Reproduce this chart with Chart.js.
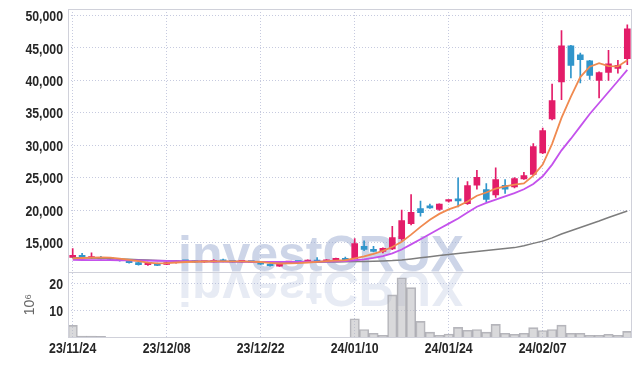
<!DOCTYPE html>
<html>
<head>
<meta charset="utf-8">
<script src="https://cdn.jsdelivr.net/npm/chart.js@4.4.1/dist/chart.umd.min.js"></script>
<style>
  html, body { margin: 0; padding: 0; background: #fff; }
  canvas { display: block; }
</style>
</head>
<body>
<canvas id="chart" width="642" height="366"></canvas>
<script>
const dates = [
  '23/11/24', '23/11/27', '23/11/28', '23/11/29', '23/11/30', '23/12/01', '23/12/04', '23/12/05', '23/12/06', '23/12/07',
  '23/12/08', '23/12/11', '23/12/12', '23/12/13', '23/12/14', '23/12/15', '23/12/18', '23/12/19', '23/12/20', '23/12/21',
  '23/12/22', '23/12/26', '23/12/27', '23/12/28', '24/01/02', '24/01/03', '24/01/04', '24/01/05', '24/01/08', '24/01/09',
  '24/01/10', '24/01/11', '24/01/12', '24/01/15', '24/01/16', '24/01/17', '24/01/18', '24/01/19', '24/01/22', '24/01/23',
  '24/01/24', '24/01/25', '24/01/26', '24/01/29', '24/01/30', '24/01/31', '24/02/01', '24/02/02', '24/02/05', '24/02/06',
  '24/02/07', '24/02/08', '24/02/13', '24/02/14', '24/02/15', '24/02/16', '24/02/19', '24/02/20', '24/02/21', '24/02/22'
]

const opens = [
  12700, 13000, 12600, 12600, 12500, 12330, 12110, 11900, 11560, 11750,
  11600, 11870, 12150, 12150, 11980, 12000, 12220, 12150, 12000, 12050,
  11960, 11650, 11350, 11900, 11980, 11960, 12150, 12100, 12220, 12480,
  12480, 14400, 13920, 13610, 14000, 15560, 17880, 20230, 20650, 20080,
  21380, 21720, 20990, 23820, 23160, 22340, 23820, 23570, 24810, 25470,
  28810, 34050, 39750, 45330, 43950, 43020, 39990, 41220, 41840, 43330
]
const highs = [
  14050, 13300, 13400, 12850, 12600, 12400, 12200, 11950, 11950, 11800,
  11950, 12200, 12250, 12200, 12100, 12350, 12450, 12200, 12100, 12100,
  12000, 11700, 11900, 12050, 12050, 12300, 12650, 12350, 12600, 12750,
  15610, 15250, 14380, 14150, 17500, 19970, 22390, 21360, 20900, 20950,
  21550, 24960, 24390, 26130, 24080, 26500, 24700, 25000, 25800, 30240,
  32650, 39430, 47690, 45400, 44200, 43100, 41300, 44610, 43070, 48570
]
const lows = [
  12650, 12650, 12550, 12400, 12350, 12100, 11800, 11500, 11450, 11400,
  11550, 11800, 12000, 11900, 11900, 11950, 12000, 11950, 11950, 11900,
  11600, 11350, 11300, 11850, 11900, 11900, 12000, 12050, 12150, 12250,
  12400, 13720, 13550, 13400, 13900, 15300, 17700, 19050, 20250, 19950,
  21200, 20490, 20850, 23200, 21300, 21950, 22550, 23400, 24700, 25300,
  28700, 33900, 37020, 40360, 39590, 40150, 37280, 40000, 41100, 42400
]
const closes = [
  13000, 12700, 12780, 12450, 12420, 12180, 11870, 11560, 11870, 11450,
  11900, 12150, 12100, 11950, 12020, 12250, 12070, 12000, 12050, 11960,
  11650, 11400, 11810, 11980, 11960, 12270, 12050, 12300, 12530, 12330,
  14840, 13920, 13610, 14080, 15750, 18380, 19660, 19570, 20340, 20900,
  21420, 21420, 23770, 25050, 21620, 24700, 23200, 24850, 25310, 29780,
  32240, 36860, 45330, 42300, 43180, 40760, 41180, 42560, 42300, 47950
]

// volume in millions of shares
const volumes = [
  4.5, 0.5, 0.5, 0.4, 0.05, 0.05, 0.05, 0.05, 0.05, 0.05,
  0.05, 0.05, 0.05, 0.05, 0.05, 0.05, 0.05, 0.05, 0.05, 0.05,
  0.05, 0.05, 0.05, 0.05, 0.05, 0.05, 0.05, 0.05, 0.05, 0.05,
  7.0, 3.0, 1.6, 0.85, 15.9, 22.3, 18.6, 6.0, 2.0, 0.85,
  1.3, 3.8, 2.7, 3.0, 2.0, 4.9, 1.6, 1.2, 1.6, 3.7,
  2.6, 3.0, 4.6, 1.6, 1.6, 0.85, 0.85, 1.2, 0.85, 2.3
]

const ma5 = [
  12550, 12600, 12650, 12700, 12650, 12500, 12300, 12100, 11900, 11780,
  11800, 11900, 11980, 12020, 12060, 12080, 12090, 12080, 12070, 12050,
  11980, 11850, 11750, 11760, 11800, 11900, 12000, 12100, 12180, 12250,
  12550, 12850, 13250, 13700, 14300, 15100, 16200, 17400, 18500, 19400,
  20100, 20600, 21300, 22200, 22700, 23300, 23650, 23900, 24100, 25300,
  27000, 30200, 34200, 37500, 40500, 42100, 42650, 42200, 42150, 43100
]
const ma20 = [
  12300, 12290, 12280, 12270, 12260, 12250, 12230, 12210, 12190, 12170,
  12150, 12130, 12110, 12090, 12070, 12060, 12050, 12040, 12030, 12020,
  12010, 12000, 12000, 12000, 12010, 12020, 12040, 12060, 12090, 12130,
  12250, 12400, 12600, 12900, 13300, 13900, 14700, 15500, 16300, 17100,
  17900, 18700, 19600, 20500, 21100, 21600, 22100, 22600, 23200, 24000,
  25200, 27000, 29200, 31000, 32900, 34800, 36500, 38200, 39900, 41600
]
const ma60 = [
  12650, 12620, 12580, 12540, 12500, 12450, 12400, 12340, 12280, 12220,
  12160, 12120, 12100, 12080, 12060, 12050, 12040, 12030, 12020, 12010,
  12000, 11990, 11980, 11970, 11960, 11960, 11960, 11970, 11990, 12010,
  12040, 12070, 12100, 12140, 12200, 12300, 12450, 12620, 12800, 12980,
  13150, 13300, 13450, 13600, 13750, 13900, 14050, 14200, 14500, 14850,
  15200, 15700, 16300, 16800, 17300, 17800, 18300, 18850, 19350, 19850
]

const xTickLabels = ['23/11/24', '23/12/08', '23/12/22', '24/01/10', '24/01/24', '24/02/07']
const priceTicks = [15000, 20000, 25000, 30000, 35000, 40000, 45000, 50000]
const volumeTicks = [10, 20]

const upColor = '#e31c69'
const downColor = '#3095cb'
const gridColor = '#c6cadf'
const frameColor = '#d0d1da'
const candleColors = opens.map((o, i) => closes[i] >= o ? upColor : downColor)

const watermarkPlugin = {
  id: 'watermark',
  beforeDatasetsDraw(chart) {
    const { ctx, chartArea } = chart
    const base = chart.scales.y.bottom - 1
    const x = chartArea.left + 110
    ctx.save()
    ctx.font = "bold 50px 'Liberation Sans', sans-serif"
    ctx.textBaseline = 'alphabetic'
    ctx.fillStyle = 'rgba(155,172,210,0.5)'
    ctx.fillText('investCRUX', x, base)
    ctx.translate(0, base * 2)
    ctx.scale(1, -1)
    ctx.fillStyle = 'rgba(160,176,212,0.25)'
    ctx.fillText('investCRUX', x, base)
    ctx.restore()
  }
}

// the tick font of the original is a narrow bold face, so the labels are squeezed a little
const tickLabelPlugin = {
  id: 'tickLabels',
  afterDraw(chart) {
    const { ctx, chartArea, scales } = chart
    const squeeze = 0.82
    const put = (text, x, y, align) => {
      ctx.save()
      ctx.translate(x, y)
      ctx.scale(squeeze, 1)
      ctx.textAlign = align
      ctx.fillText(text, 0, 0)
      ctx.restore()
    }
    ctx.save()
    ctx.font = "bold 15px 'Liberation Sans', sans-serif"
    ctx.fillStyle = '#262626'
    ctx.textBaseline = 'middle'
    priceTicks.forEach(v => put(v.toLocaleString('en-US'), chartArea.left - 5, scales.y.getPixelForValue(v) + 1.5, 'right'))
    volumeTicks.forEach(v => put(String(v), chartArea.left - 5, scales.yv.getPixelForValue(v) + 1, 'right'))
    xTickLabels.forEach(l => put(l, scales.x.getPixelForValue(dates.indexOf(l)), scales.x.top + 11.2, 'center'))
    ctx.restore()
  }
}

const framePlugin = {
  id: 'frame',
  afterDraw(chart) {
    const { ctx, chartArea } = chart
    const sep = Math.round(chart.scales.y.bottom) + 0.5
    ctx.save()
    ctx.strokeStyle = frameColor
    ctx.lineWidth = 1
    ctx.strokeRect(Math.round(chartArea.left) + 0.5, Math.round(chartArea.top) + 0.5,
      Math.round(chartArea.right - chartArea.left) - 1, Math.round(chartArea.bottom - chartArea.top) - 1)
    ctx.beginPath()
    ctx.moveTo(chartArea.left, sep)
    ctx.lineTo(chartArea.right, sep)
    ctx.stroke()
    ctx.restore()
  }
}

new Chart(document.getElementById('chart'), {
  type: 'bar',
  data: {
    labels: dates,
    datasets: [
      { type: 'line', label: 'MA5', data: ma5, yAxisID: 'y', borderColor: '#f08a50', borderWidth: 1.8, pointRadius: 0, order: 0 },
      { type: 'line', label: 'MA20', data: ma20, yAxisID: 'y', borderColor: '#c452ec', borderWidth: 1.8, pointRadius: 0, order: 0 },
      { type: 'line', label: 'MA60', data: ma60, yAxisID: 'y', borderColor: '#7d7d7d', borderWidth: 1.5, pointRadius: 0, order: 0 },
      {
        label: 'body', data: opens.map((o, i) => [o, closes[i]]), yAxisID: 'y',
        backgroundColor: candleColors, barThickness: 6, minBarLength: 1.5, grouped: false, order: 1
      },
      {
        label: 'wick', data: lows.map((l, i) => [l, highs[i]]), yAxisID: 'y',
        backgroundColor: candleColors, barThickness: 1, grouped: false, order: 2
      },
      {
        label: 'volume', data: volumes, yAxisID: 'yv',
        backgroundColor: 'rgba(185,185,190,0.55)', borderColor: 'rgba(150,150,158,0.7)', borderWidth: 1,
        barPercentage: 1, categoryPercentage: 1, grouped: false, order: 3
      }
    ]
  },
  options: {
    responsive: false,
    animation: false,
    layout: { padding: { top: 9, right: 10, left: 0, bottom: 0 } },
    plugins: { legend: { display: false }, tooltip: { enabled: false } },
    scales: {
      x: {
        offset: true,
        grid: { offset: false, color: gridColor, drawTicks: false },
        border: { display: false, dash: [1, 2] },
        afterBuildTicks: s => { s.ticks = xTickLabels.map(l => ({ value: dates.indexOf(l) })) },
        afterFit: s => { s.height = 28.5 },
        ticks: { display: false }
      },
      y: {
        type: 'linear', position: 'left', stack: 'panes', stackWeight: 263, weight: 2,
        min: 10500, max: 51000,
        afterBuildTicks: s => { s.ticks = priceTicks.map(v => ({ value: v })) },
        afterFit: s => { s.width = 68 },
        grid: { color: gridColor, drawTicks: false },
        border: { display: false, dash: [1, 2] },
        ticks: { display: false }
      },
      yv: {
        type: 'linear', position: 'left', stack: 'panes', stackWeight: 66, weight: 1,
        min: 0, max: 24.6,
        afterBuildTicks: s => { s.ticks = volumeTicks.map(v => ({ value: v })) },
        afterFit: s => { s.width = 68 },
        grid: { color: gridColor, drawTicks: false },
        border: { display: false, dash: [1, 2] },
        title: {
          display: true, text: '10⁶', color: '#666', padding: { top: 22, bottom: 0 },
          font: { family: "'Liberation Sans', sans-serif", size: 14, weight: 'normal' }
        },
        ticks: { display: false }
      }
    }
  },
  plugins: [watermarkPlugin, framePlugin, tickLabelPlugin]
})
</script>
</body>
</html>
